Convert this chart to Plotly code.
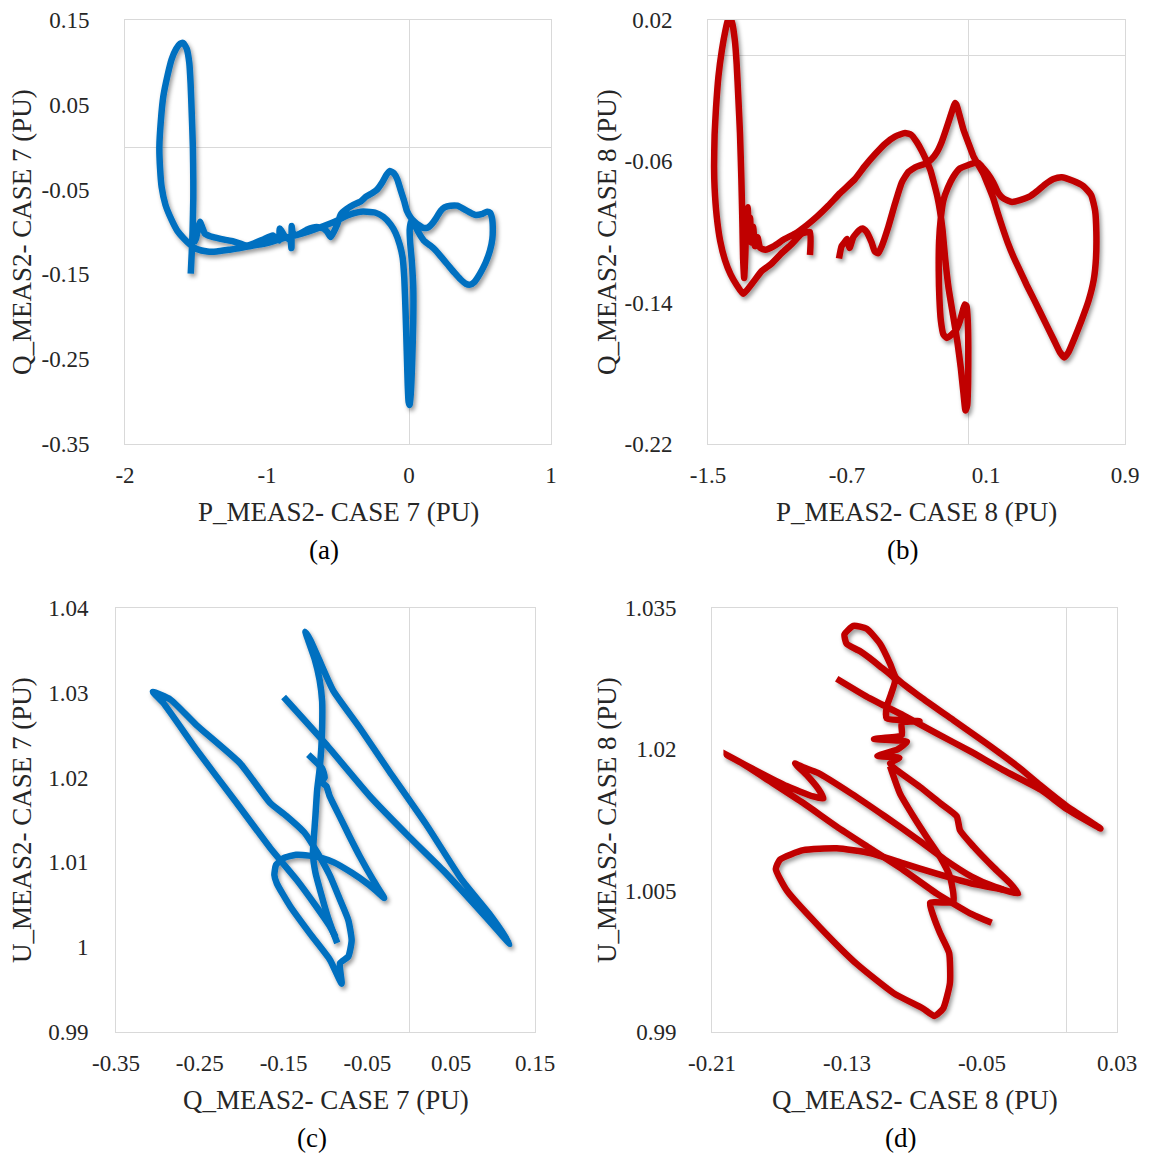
import plotly.graph_objects as go

# ---------------- (a) Q vs P, case 7 ----------------
P7_a = [-1.537, -1.530, -1.524, -1.519, -1.519, -1.522, -1.530, -1.538, -1.547, -1.565,
        -1.590, -1.612, -1.640, -1.671, -1.700, -1.730, -1.748, -1.758, -1.753, -1.742,
        -1.715, -1.671, -1.630, -1.589, -1.540, -1.495, -1.420, -1.354, -1.270, -1.190,
        -1.100, -1.000, -0.900, -0.800, -0.700, -0.600, -0.500, -0.440, -0.392, -0.340,
        -0.298, -0.240, -0.181, -0.130, -0.095, -0.065, -0.045, -0.033, -0.024, -0.016,
        -0.009, -0.003, 0.004, 0.012, 0.022, 0.030, 0.030, 0.020, 0.008, 0.005,
        0.015, 0.030, 0.050, 0.080, 0.110, 0.150, 0.190, 0.230, 0.270, 0.320,
        0.364, 0.400, 0.430, 0.460, 0.500, 0.540, 0.570, 0.587, 0.590, 0.585,
        0.570, 0.550, 0.510, 0.470, 0.430, 0.387, 0.340, 0.293, 0.250, 0.223,
        0.190, 0.164, 0.130, 0.100, 0.070, 0.040, 0.012, -0.015, -0.035, -0.060,
        -0.082, -0.105, -0.134, -0.160, -0.190, -0.225, -0.258, -0.300, -0.340, -0.392,
        -0.440, -0.480, -0.505, -0.530, -0.552, -0.575, -0.600, -0.650, -0.716, -0.768,
        -0.800, -0.820, -0.826, -0.828, -0.835, -0.870, -0.910, -0.915, -0.960, -1.030,
        -1.100, -1.143, -1.237, -1.300, -1.354, -1.400, -1.437, -1.455, -1.472, -1.485,
        -1.500, -1.515]
Q7_a = [-0.149, -0.125, -0.098, -0.060, -0.039, 0.000, 0.040, 0.075, 0.099, 0.116,
        0.123, 0.122, 0.116, 0.104, 0.085, 0.060, 0.030, 0.000, -0.025, -0.047,
        -0.068, -0.086, -0.099, -0.107, -0.115, -0.120, -0.123, -0.123, -0.121, -0.119,
        -0.116, -0.113, -0.108, -0.104, -0.099, -0.093, -0.086, -0.081, -0.078, -0.076,
        -0.076, -0.077, -0.082, -0.091, -0.101, -0.115, -0.130, -0.155, -0.195, -0.240,
        -0.280, -0.300, -0.304, -0.292, -0.255, -0.205, -0.165, -0.135, -0.112, -0.097,
        -0.088, -0.087, -0.095, -0.104, -0.111, -0.116, -0.122, -0.130, -0.138, -0.148,
        -0.156, -0.161, -0.162, -0.159, -0.149, -0.136, -0.122, -0.108, -0.095, -0.084,
        -0.077, -0.076, -0.079, -0.080, -0.077, -0.073, -0.069, -0.069, -0.071, -0.075,
        -0.084, -0.090, -0.095, -0.095, -0.092, -0.088, -0.083, -0.075, -0.063, -0.050,
        -0.038, -0.031, -0.028, -0.033, -0.042, -0.050, -0.054, -0.058, -0.064, -0.068,
        -0.073, -0.079, -0.091, -0.100, -0.106, -0.100, -0.096, -0.094, -0.097, -0.102,
        -0.104, -0.100, -0.093, -0.119, -0.110, -0.106, -0.096, -0.110, -0.104, -0.109,
        -0.114, -0.116, -0.111, -0.109, -0.107, -0.105, -0.102, -0.095, -0.088, -0.095,
        -0.108, -0.113]

# ---------------- (b) Q vs P, case 8 ----------------
P8_b = [-0.913, -0.913, -0.960, -1.020, -1.076, -1.135, -1.190, -1.245, -1.297, -1.335,
        -1.370, -1.402, -1.430, -1.450, -1.462, -1.465, -1.462, -1.454, -1.440, -1.420,
        -1.400, -1.385, -1.373, -1.360, -1.345, -1.335, -1.325, -1.316, -1.308, -1.302,
        -1.298, -1.292, -1.285, -1.280, -1.272, -1.265, -1.258, -1.250, -1.240, -1.230,
        -1.215, -1.200, -1.170, -1.120, -1.060, -1.000, -0.930, -0.870, -0.807, -0.740,
        -0.654, -0.600, -0.539, -0.480, -0.424, -0.366, -0.330, -0.299, -0.270, -0.241,
        -0.220, -0.203, -0.180, -0.165, -0.150, -0.135, -0.115, -0.090, -0.065, -0.045,
        -0.030, -0.018, -0.008, -0.003, -0.002, -0.005, -0.012, -0.022, -0.032, -0.049,
        -0.070, -0.097, -0.125, -0.145, -0.160, -0.168, -0.172, -0.170, -0.160, -0.145,
        -0.120, -0.090, -0.050, 0.000, 0.030, 0.056, 0.085, 0.110, 0.142, 0.171,
        0.200, 0.250, 0.296, 0.350, 0.392, 0.440, 0.488, 0.536, 0.600, 0.660,
        0.705, 0.728, 0.735, 0.733, 0.720, 0.690, 0.650, 0.610, 0.575, 0.550,
        0.525, 0.490, 0.440, 0.380, 0.334, 0.296, 0.258, 0.225, 0.200, 0.170,
        0.142, 0.110, 0.085, 0.050, 0.027, 0.000, -0.030, -0.055, -0.070, -0.078,
        -0.090, -0.110, -0.130, -0.155, -0.184, -0.215, -0.242, -0.270, -0.299, -0.318,
        -0.347, -0.385, -0.424, -0.462, -0.500, -0.520, -0.540, -0.558, -0.587, -0.610,
        -0.630, -0.664, -0.685, -0.700, -0.715, -0.731, -0.746]
Q8_b = [-0.113, -0.100, -0.101, -0.107, -0.112, -0.118, -0.122, -0.129, -0.135, -0.130,
        -0.124, -0.116, -0.105, -0.091, -0.075, -0.063, -0.045, -0.030, -0.012, 0.003,
        0.014, 0.020, 0.021, 0.018, 0.008, -0.005, -0.025, -0.044, -0.070, -0.095,
        -0.115, -0.126, -0.112, -0.092, -0.086, -0.100, -0.092, -0.106, -0.097, -0.108,
        -0.103, -0.109, -0.110, -0.108, -0.104, -0.101, -0.096, -0.091, -0.085, -0.078,
        -0.070, -0.063, -0.056, -0.050, -0.046, -0.044, -0.045, -0.049, -0.054, -0.060,
        -0.065, -0.071, -0.080, -0.088, -0.099, -0.115, -0.132, -0.147, -0.162, -0.177,
        -0.191, -0.201, -0.198, -0.185, -0.165, -0.150, -0.142, -0.141, -0.144, -0.150,
        -0.155, -0.158, -0.160, -0.158, -0.150, -0.138, -0.122, -0.105, -0.092, -0.082,
        -0.075, -0.069, -0.064, -0.062, -0.061, -0.061, -0.064, -0.067, -0.072, -0.078,
        -0.081, -0.083, -0.082, -0.080, -0.077, -0.073, -0.070, -0.069, -0.071, -0.074,
        -0.079, -0.088, -0.100, -0.115, -0.127, -0.139, -0.150, -0.160, -0.168, -0.171,
        -0.168, -0.161, -0.151, -0.139, -0.130, -0.122, -0.114, -0.106, -0.099, -0.090,
        -0.081, -0.073, -0.067, -0.061, -0.057, -0.050, -0.042, -0.033, -0.028, -0.027,
        -0.030, -0.036, -0.042, -0.049, -0.055, -0.059, -0.061, -0.062, -0.063, -0.064,
        -0.066, -0.072, -0.084, -0.097, -0.108, -0.112, -0.111, -0.106, -0.100, -0.098,
        -0.099, -0.103, -0.109, -0.104, -0.106, -0.108, -0.115]

# ---------------- (c) U vs Q, case 7 ----------------
Q7_c = [-0.150, -0.100, -0.047, 0.000, 0.041, 0.080, 0.120, 0.095, 0.063, 0.020,
        -0.025, -0.060, -0.091, -0.108, -0.118, -0.124, -0.120, -0.113, -0.107, -0.104,
        -0.104, -0.105, -0.107, -0.110, -0.112, -0.114, -0.115, -0.112, -0.105, -0.098,
        -0.091, -0.086, None,
        -0.1205, -0.112, -0.104, -0.101, -0.105, -0.099, -0.095, -0.083, -0.071, -0.059,
        -0.043, -0.030, -0.039, -0.050, -0.069, -0.090, -0.104, -0.120, -0.135, -0.150,
        -0.159, -0.161, -0.158, -0.142, -0.1185, -0.0946, -0.0807, -0.0827, -0.0728, -0.0688,
        -0.0728, -0.0827, -0.095, -0.110, -0.125, -0.147, -0.166, -0.202, -0.254, -0.285,
        -0.306, -0.2935, -0.254, -0.206, -0.166, -0.134, -0.111, -0.095, -0.088]
U7_c = [1.0295, 1.0240, 1.0178, 1.0130, 1.0090, 1.0048, 1.0004, 1.0040, 1.0079, 1.0145,
        1.0209, 1.0260, 1.0303, 1.0340, 1.0362, 1.0372, 1.0360, 1.0340, 1.0315, 1.0290,
        1.0260, 1.0235, 1.0210, 1.0185, 1.0155, 1.0128, 1.0110, 1.0088, 1.0062, 1.0038,
        1.0018, 1.0005, None,
        1.0227, 1.0219, 1.0211, 1.0200, 1.0195, 1.0190, 1.0178, 1.0154, 1.0130, 1.0107,
        1.0079, 1.0058, 1.0066, 1.0075, 1.0088, 1.0100, 1.0105, 1.0108, 1.0109, 1.0105,
        1.0097, 1.0085, 1.0075, 1.0048, 1.0016, 0.9985, 0.9957, 0.9981, 0.9989, 1.0008,
        1.0032, 1.0056, 1.0085, 1.0112, 1.0135, 1.0155, 1.0170, 1.0217, 1.0262, 1.0292,
        1.0301, 1.0288, 1.0233, 1.0170, 1.0117, 1.0079, 1.0048, 1.0025, 1.0012]

# ---------------- (d) U vs Q, case 8 ----------------
Q8_d = [-0.0443, -0.0571, -0.0769, -0.0966, -0.1164, -0.1361, -0.1559, -0.1756, -0.1930, -0.2013,
        -0.1950, -0.1855, -0.1658, -0.1500, -0.1440, -0.1470, -0.1540, -0.1608, -0.1560, -0.1472,
        -0.1274, -0.1076, -0.0878, -0.0720, -0.0562, -0.0423, -0.0285, -0.0334, -0.0433, -0.0551,
        -0.0630, -0.0650, -0.0749, -0.0867, -0.1006, -0.1045, -0.0990, -0.1120, -0.1000, -0.0945,
        -0.1140, -0.0976, -0.0976, -0.0870, -0.1065, -0.1065, -0.1040, -0.1016, -0.1104, -0.1222,
        -0.1302, -0.1315, -0.1262, -0.1183, -0.1104, -0.1045, -0.1010, -0.0867, -0.0670, -0.0472,
        -0.0275, -0.0156, 0.0000, 0.0202, 0.0000, -0.0151, -0.0374, -0.0571, -0.0769, -0.0966,
        -0.1164, -0.1361, None,
        -0.1045, -0.0986, -0.0907, -0.0828, -0.0749, -0.0690, -0.0670, -0.0670, -0.0808, -0.0788,
        -0.0749, -0.0695, -0.0690, -0.0730, -0.0782, -0.0850, -0.1022, -0.1241, -0.1460, -0.1656,
        -0.1722, -0.1697, -0.1559, -0.1361, -0.1164, -0.0966, -0.0769, -0.0571, -0.0374]
U8_d = [1.0016, 1.0026, 1.0047, 1.0072, 1.0095, 1.0118, 1.0143, 1.0166, 1.0186, 1.0194,
        1.0188, 1.0179, 1.0161, 1.0150, 1.0148, 1.0158, 1.0173, 1.0185, 1.0181, 1.0175,
        1.0153, 1.0129, 1.0104, 1.0083, 1.0065, 1.0054, 1.0047, 1.0058, 1.0075, 1.0097,
        1.0114, 1.0129, 1.0143, 1.0160, 1.0178, 1.0185, 1.0191, 1.0193, 1.0200, 1.0208,
        1.0211, 1.0215, 1.0228, 1.0230, 1.0233, 1.0245, 1.0258, 1.0274, 1.0288, 1.0304,
        1.0312, 1.0322, 1.0331, 1.0328, 1.0312, 1.0291, 1.0276, 1.0256, 1.0231, 1.0206,
        1.0180, 1.0162, 1.0140, 1.0116, 1.0137, 1.0157, 1.0178, 1.0198, 1.0217, 1.0236,
        1.0254, 1.0275, None,
        1.0182, 1.0153, 1.0129, 1.0107, 1.0086, 1.0065, 1.0047, 1.0038, 1.0037, 1.0023,
        1.0005, 0.9984, 0.9952, 0.9925, 0.9917, 0.9925, 0.9941, 0.9972, 1.0011, 1.0050,
        1.0073, 1.0083, 1.0093, 1.0095, 1.0090, 1.0079, 1.0068, 1.0058, 1.0051]

# Axis ticks
TICKS_A_X = [-2, -1, 0, 1]
TICKS_A_Y = [0.15, 0.05, -0.05, -0.15, -0.25, -0.35]
TICKS_B_X = [-1.5, -0.7, 0.1, 0.9]
TICKS_B_Y = [0.02, -0.06, -0.14, -0.22]
TICKS_C_X = [-0.35, -0.25, -0.15, -0.05, 0.05, 0.15]
TICKS_C_Y = [0.99, 1.0, 1.01, 1.02, 1.03, 1.04]
TICKS_D_X = [-0.21, -0.13, -0.05, 0.03]
TICKS_D_Y = [0.99, 1.005, 1.02, 1.035]

TITLES = {
    "a": ("P_MEAS2- CASE 7 (PU)", "Q_MEAS2- CASE 7 (PU)"),
    "b": ("P_MEAS2- CASE 8 (PU)", "Q_MEAS2- CASE 8 (PU)"),
    "c": ("Q_MEAS2- CASE 7 (PU)", "U_MEAS2- CASE 7 (PU)"),
    "d": ("Q_MEAS2- CASE 8 (PU)", "U_MEAS2- CASE 8 (PU)"),
}

BLUE = "#0070C0"
RED = "#C00000"
W, H = 1160, 1154
FONT = "Liberation Serif, Times New Roman, serif"
TXT = "#262626"
GRID = "#D9D9D9"

# panel boxes in pixels: left, right, top, bottom, y-label gap, y-title x
BOX = {
    "a": (125, 551, 20, 444, 30, 22),
    "b": (708, 1125, 20, 444, 30, 607),
    "c": (116, 535, 608, 1032, 22, 22),
    "d": (712, 1117, 608, 1032, 30, 607),
}

panels = [
    ("a", P7_a, Q7_a, BLUE, TICKS_A_X, TICKS_A_Y),
    ("b", P8_b, Q8_b, RED, TICKS_B_X, TICKS_B_Y),
    ("c", Q7_c, U7_c, BLUE, TICKS_C_X, TICKS_C_Y),
    ("d", Q8_d, U8_d, RED, TICKS_D_X, TICKS_D_Y),
]

fig = go.Figure()
annotations = []


def fmt(v):
    return f"{v:g}"


for i, (key, xs, ys, color, tx, ty) in enumerate(panels, start=1):
    sfx = "" if i == 1 else str(i)
    l, r, t, b, ygap, ytx = BOX[key]
    fig.add_trace(go.Scatter(
        x=xs, y=ys, mode="lines", xaxis="x" + sfx, yaxis="y" + sfx,
        line=dict(color=color, width=6.5, shape="spline", smoothing=0.5),
        connectgaps=False, hoverinfo="skip", showlegend=False,
    ))
    axis_common = dict(
        showgrid=False, zeroline=True, zerolinecolor=GRID, zerolinewidth=1,
        showline=True, linecolor=GRID, linewidth=1, mirror=True, automargin=False,
        ticks="", tickfont=dict(family=FONT, size=23, color=TXT),
    )
    fig.update_layout(**{
        "xaxis" + sfx: dict(
            domain=[l / W, r / W], anchor="y" + sfx,
            range=[min(tx), max(tx)], tickvals=tx, ticktext=[fmt(v) for v in tx],
            ticklabelstandoff=10, **axis_common),
        "yaxis" + sfx: dict(
            domain=[1 - b / H, 1 - t / H], anchor="x" + sfx,
            range=[min(ty), max(ty)], tickvals=ty, ticktext=[fmt(v) for v in ty],
            ticklabelstandoff=ygap, **axis_common),
    })
    xt, yt = TITLES[key]
    cx = (l + r) / 2
    cy = (t + b) / 2
    annotations.append(dict(
        text=xt, x=cx / W, y=1 - (b + 68) / H, xref="paper", yref="paper",
        xanchor="center", yanchor="middle", showarrow=False,
        font=dict(family=FONT, size=27, color=TXT)))
    annotations.append(dict(
        text=yt, x=ytx / W, y=1 - cy / H, xref="paper", yref="paper",
        xanchor="center", yanchor="middle", showarrow=False, textangle=-90,
        font=dict(family=FONT, size=27, color=TXT)))
    annotations.append(dict(
        text=f"({key})", x=(cx - 14) / W, y=1 - (b + 106) / H, xref="paper", yref="paper",
        xanchor="center", yanchor="middle", showarrow=False,
        font=dict(family=FONT, size=27, color="#000000")))

fig.update_layout(
    width=W, height=H, margin=dict(l=0, r=0, t=0, b=0, autoexpand=False),
    paper_bgcolor="white", plot_bgcolor="white",
    annotations=annotations, showlegend=False,
)

# soft drop shadow under the curves
shadow_js = """
var gd = document.getElementById('{plot_id}');
function addShadow() {
  var svg = gd.querySelector('svg.main-svg');
  if (!svg) return;
  var ns = 'http://www.w3.org/2000/svg';
  if (!document.getElementById('curveShadow')) {
    var defs = svg.querySelector('defs');
    if (!defs) { defs = document.createElementNS(ns, 'defs'); svg.insertBefore(defs, svg.firstChild); }
    var f = document.createElementNS(ns, 'filter');
    f.setAttribute('id', 'curveShadow');
    f.setAttribute('x', '-20%'); f.setAttribute('y', '-20%');
    f.setAttribute('width', '140%'); f.setAttribute('height', '140%');
    var ds = document.createElementNS(ns, 'feDropShadow');
    ds.setAttribute('dx', '2'); ds.setAttribute('dy', '3');
    ds.setAttribute('stdDeviation', '2.2');
    ds.setAttribute('flood-color', '#000000'); ds.setAttribute('flood-opacity', '0.4');
    f.appendChild(ds); defs.appendChild(f);
  }
  gd.querySelectorAll('.scatterlayer .trace').forEach(function (t) {
    t.setAttribute('filter', 'url(#curveShadow)');
  });
}
addShadow();
if (gd.on) { gd.on('plotly_afterplot', addShadow); }
"""

fig.write_html("out.html", post_script=shadow_js)
